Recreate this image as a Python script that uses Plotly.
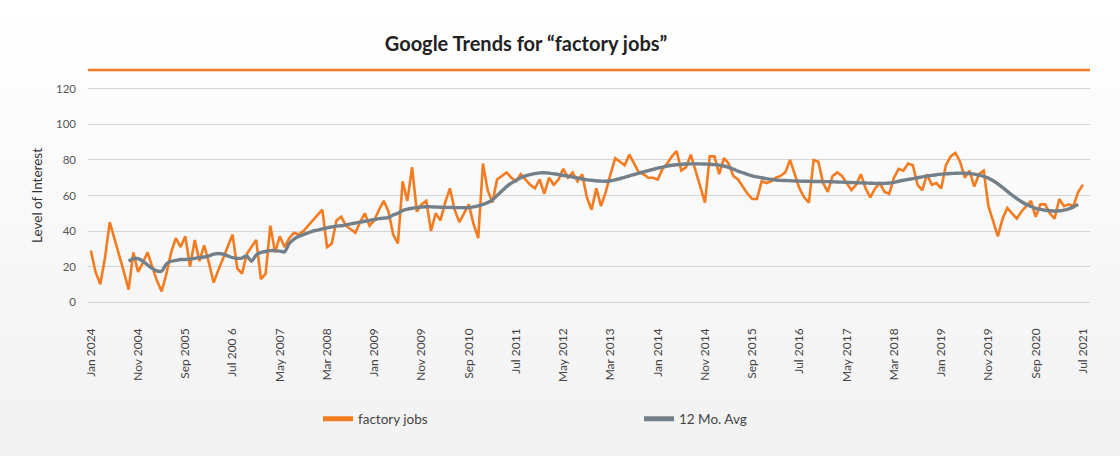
import plotly.graph_objects as go
import pandas as pd

# ---------------- data ----------------
MONTHS = pd.date_range("2004-01-01", periods=211, freq="MS").strftime("%Y-%m").tolist()

FACTORY_JOBS = [
    29, 17, 10, 25, 45, 36, 26, 17, 7, 28,
    17, 22, 28, 20, 12, 6, 16, 28, 36, 31,
    37, 20, 35, 23, 32, 22, 11, 18, 25, 31,
    38, 19, 16, 27, 31, 35, 13, 16, 43, 28,
    37, 31, 36, 39, 38, 40, 43, 46, 49, 52,
    31, 33, 46, 48, 43, 41, 39, 45, 50, 43,
    46, 52, 57, 51, 38, 33, 68, 57, 76, 51,
    55, 57, 40, 50, 46, 56, 64, 52, 45, 50,
    55, 44, 36, 78, 63, 56, 69, 71, 73, 70,
    68, 72, 69, 66, 64, 69, 61, 70, 66, 69,
    75, 70, 73, 68, 72, 59, 52, 64, 54, 62,
    72, 81, 79, 77, 83, 78, 73, 72, 70, 70,
    69, 75, 78, 82, 85, 74, 76, 83, 74, 65,
    56, 82, 82, 72, 81, 78, 71, 69, 65, 61,
    58, 58, 68, 67, 68, 70, 71, 73, 80, 72,
    64, 59, 56, 80, 79, 67, 62, 71, 73, 71,
    67, 63, 66, 72, 64, 59, 64, 67, 62, 61,
    70, 75, 74, 78, 77, 66, 63, 72, 66, 67,
    64, 77, 82, 84, 79, 70, 74, 65, 72, 74,
    54, 46, 37, 47, 53, 50, 47, 51, 54, 57,
    48, 55, 55, 50, 47, 58, 54, 55, 54, 62,
    66,
]

AVG_START = 8
AVG_12MO = [
    23, 24.5,
    24.5, 23, 21, 19, 17.5, 17.5, 21.5, 23, 23.5, 24,
    24, 24.3, 24.6, 25, 25.4, 26, 27, 27.4, 27, 26,
    25, 24.6, 24.8, 26, 23, 26.5, 28, 28.5, 29, 29,
    28.7, 28.3, 33, 35.5, 37, 38, 39, 40, 40.5, 41.2,
    41.8, 42.3, 42.8, 43, 43.5, 44, 44.5, 45, 45.5, 46,
    46.5, 47, 47.3, 47.6, 49, 50, 51.5, 52.3, 52.8, 53.2,
    53.5, 53.7, 53.6, 53.5, 53.4, 53.3, 53.3, 53.2, 53.2, 53.1,
    53.2, 53.6, 54.2, 55, 56, 57.5, 60, 62.5, 65, 67,
    68.5, 70, 71, 71.8, 72.3, 72.7, 72.8, 72.6, 72.2, 71.8,
    71.3, 70.9, 70.4, 69.9, 69.3, 68.8, 68.6, 68.3, 68.1, 68,
    68.3, 68.8, 69.5, 70.2, 71, 71.8, 72.6, 73.3, 74, 74.7,
    75.4, 76, 76.6, 77, 77.3, 77.5, 77.7, 77.8, 77.8, 77.8,
    77.7, 77.6, 77.4, 77.1, 76.6, 75.8, 74.8, 73.7, 72.8, 71.9,
    71.1, 70.5, 70, 69.5, 69.1, 68.7, 68.5, 68.4, 68.3, 68.2,
    68.1, 68, 68, 67.9, 67.9, 67.8, 67.8, 67.7, 67.6, 67.5,
    67.4, 67.3, 67.2, 67.1, 67, 66.9, 66.8, 66.8, 66.8, 67,
    67.4, 68, 68.6, 69.1, 69.5, 70, 70.5, 70.9, 71.3, 71.7,
    72, 72.2, 72.4, 72.5, 72.6, 72.5, 72.3, 72, 71.5, 70.8,
    69.8, 68.3, 66.5, 64.5, 62.3, 60.2, 58.3, 56.5, 55, 53.8,
    52.8, 52.2, 51.7, 51.4, 51.3, 51.4, 51.8, 52.5, 53.6, 55,
]

TICK_LABELS = [
    "Jan 2024", "Nov 2004", "Sep 2005", "Jul 200 6", "May 2007", "Mar 2008",
    "Jan 2009", "Nov 2009", "Sep 2010", "Jul 2011", "May 2012", "Mar 2013",
    "Jan 2014", "Nov 2014", "Sep 2015", "Jul 2016", "May 2017", "Mar 2018",
    "Jan 2019", "Nov 2019", "Sep 2020", "Jul 2021",
]
Y_TICKS = [0, 20, 40, 60, 80, 100, 120]

assert len(FACTORY_JOBS) == len(MONTHS)
AVG_MONTHS = MONTHS[AVG_START:AVG_START + len(AVG_12MO)]

# ---------------- style ----------------
ORANGE = "#f47b20"
GRAY = "#738089"
FONT = "Lato"
W, H = 1120, 456
ML, MR, MT, MB = 88, 30, 80, 145

fig = go.Figure()
fig.add_trace(go.Scatter(x=MONTHS, y=FACTORY_JOBS, mode="lines",
                         line=dict(color=ORANGE, width=2.6), showlegend=False,
                         name="factory jobs"))
fig.add_trace(go.Scatter(x=AVG_MONTHS, y=AVG_12MO, mode="lines",
                         line=dict(color=GRAY, width=3.4, shape="spline", smoothing=0.8),
                         showlegend=False, name="12 Mo. Avg"))
# legend swatches
fig.add_trace(go.Scatter(x=[None], y=[None], mode="lines", name="factory jobs",
                         line=dict(color=ORANGE, width=5), legend="legend"))
fig.add_trace(go.Scatter(x=[None], y=[None], mode="lines", name="12 Mo. Avg",
                         line=dict(color=GRAY, width=5), legend="legend2"))

# background gradient strips (white at top -> light gray at bottom)
ph = H - MT - MB
shapes = []
N = 57
for k in range(N):
    top = k * H / N
    bot = (k + 1) * H / N
    c = round(255 - 13 * (k + 0.5) / N)
    shapes.append(dict(type="rect", xref="paper", yref="paper",
                       x0=-ML / (W - ML - MR) - 0.01, x1=1 + MR / (W - ML - MR) + 0.01,
                       y0=(H - MB - bot) / ph, y1=(H - MB - top) / ph,
                       fillcolor=f"rgb({c},{c},{c})", line=dict(width=0), layer="below"))
# orange rule under the title
shapes.append(dict(type="line", xref="paper", yref="paper", x0=0, x1=1,
                   y0=1 + 10 / ph, y1=1 + 10 / ph,
                   line=dict(color=ORANGE, width=2.5)))

fig.update_layout(
    width=W, height=H,
    margin=dict(l=ML, r=MR, t=MT, b=MB),
    paper_bgcolor="#f6f6f6",
    plot_bgcolor="rgba(0,0,0,0)",
    font=dict(family=FONT, color="#444"),
    title=dict(text="Google Trends for “factory jobs”",
               font=dict(family=FONT, size=20, color="#222", weight="bold"),
               x=526 / W, xanchor="center", xref="container",
               y=1 - 44 / H, yanchor="middle", yref="container"),
    shapes=shapes,
    xaxis=dict(type="category", range=[-0.6, 211.5],
               tickmode="array", tickvals=MONTHS[::10], ticktext=TICK_LABELS,
               tickangle=-90, tickfont=dict(family=FONT, size=12, color="#444"),
               showgrid=False, zeroline=False, showline=False, ticks="",
               ticklabelstandoff=14),
    yaxis=dict(range=[-5, 125], tickmode="array", tickvals=Y_TICKS,
               tickfont=dict(family=FONT, size=11.5, color="#555"),
               showgrid=True, gridcolor="#d2d5d9", gridwidth=1.3,
               zeroline=False, showline=False, ticks="",
               ticklabelstandoff=11,
               title=dict(text="Level of Interest",
                          font=dict(family=FONT, size=13.5, color="#333"),
                          standoff=10)),
    legend=dict(orientation="h", xref="container", yref="container",
                x=(323 - 5) / W, xanchor="left", y=1 - 419 / H, yanchor="middle",
                bgcolor="rgba(0,0,0,0)", font=dict(family=FONT, size=13.5, color="#444")),
    legend2=dict(orientation="h", xref="container", yref="container",
                 x=(644 - 5) / W, xanchor="left", y=1 - 419 / H, yanchor="middle",
                 bgcolor="rgba(0,0,0,0)", font=dict(family=FONT, size=13.5, color="#444")),
)

fig.write_html("out.html", config={"displayModeBar": False},
               post_script="document.body.style.margin='0';")
